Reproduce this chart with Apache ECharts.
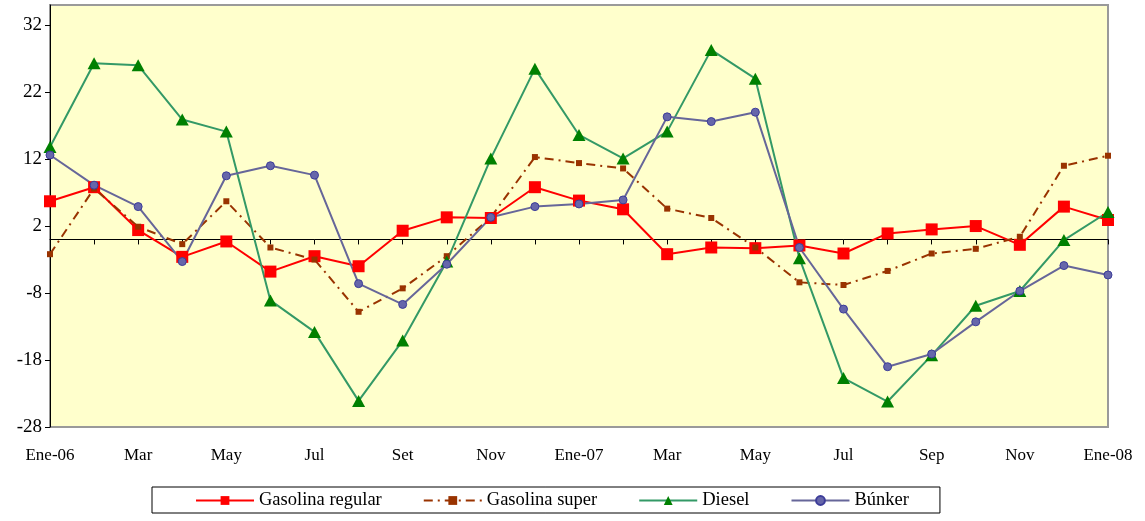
<!DOCTYPE html>
<html>
<head>
<meta charset="utf-8">
<script src="https://cdn.jsdelivr.net/npm/echarts@6/dist/echarts.min.js"></script>
<style>
html,body{margin:0;padding:0;background:#fff;}
#chart{width:1145px;height:521px;}
</style>
</head>
<body>
<div id="chart"></div>
<script>
var categories = ['Ene-06','Feb','Mar','Abr','May','Jun','Jul','Ago','Set','Oct','Nov','Dic',
                  'Ene-07','Feb','Mar','Abr','May','Jun','Jul','Ago','Sep','Oct','Nov','Dic','Ene-08'];
var gasolinaRegular = [5.7,7.8,1.4,-2.6,-0.3,-4.8,-2.5,-4.0,1.3,3.3,3.2,7.8,5.8,4.5,-2.2,-1.2,-1.3,-0.9,-2.1,0.9,1.5,2.0,-0.8,4.9,2.9];
var gasolinaSuper   = [-2.2,7.6,1.9,-0.7,5.7,-1.2,-3.0,-10.8,-7.3,-2.5,3.3,12.3,11.4,10.6,4.6,3.2,-1.2,-6.4,-6.8,-4.7,-2.1,-1.4,0.4,11.0,12.5];
var diesel          = [13.8,26.3,26.0,17.9,16.1,-9.1,-13.8,-24.1,-15.1,-3.3,12.1,25.5,15.6,12.1,16.1,28.3,24.0,-2.8,-20.7,-24.2,-17.3,-9.9,-7.7,-0.1,4.1];
var bunker          = [12.6,8.1,4.9,-3.3,9.5,11.0,9.6,-6.6,-9.7,-3.7,3.3,4.9,5.3,5.9,18.3,17.6,19.0,-1.2,-10.4,-19.0,-17.1,-12.3,-7.7,-3.9,-5.3];
var yTicks = [-28,-18,-8,2,12,22,32];
var yMin = -28, yMax = 35;

var FONT = 'Liberation Serif';
var chart = echarts.init(document.getElementById('chart'));
chart.setOption({
  animation: false,
  grid: {
    left: 50, right: 37, top: 5, bottom: 94,
    show: true, backgroundColor: '#FFFFCC',
    borderColor: '#9a9a9a', borderWidth: 2
  },
  legend: {
    left: 152, top: 487,
    orient: 'horizontal',
    borderColor: '#000', borderWidth: 1,
    padding: [4, 31, 3, 43],
    itemGap: 41, itemWidth: 58, itemHeight: 11,
    textStyle: { fontFamily: FONT, fontSize: 18.5, color: '#000' },
    data: ['Gasolina regular','Gasolina super','Diesel','Búnker']
  },
  xAxis: [
    {
      type: 'category', data: categories, boundaryGap: false, position: 'bottom',
      axisLine: { show: false, onZero: false },
      axisTick: { show: false },
      splitLine: { show: false },
      axisLabel: { interval: 1, margin: 20, fontFamily: FONT, fontSize: 17, color: '#000' }
    },
    {
      type: 'category', data: categories, boundaryGap: false, position: 'top',
      axisLine: { show: true, onZero: true, lineStyle: { color: '#000', width: 1 } },
      axisTick: { show: true, inside: true, interval: 0, length: 5, lineStyle: { color: '#000' } },
      axisLabel: { show: false },
      splitLine: { show: false }
    }
  ],
  yAxis: {
    type: 'value', min: yMin, max: yMax, interval: 10,
    axisLine: { show: true, onZero: false, lineStyle: { color: '#000', width: 1 } },
    axisTick: { show: true, length: 5, lineStyle: { color: '#000' }, customValues: yTicks },
    splitLine: { show: false },
    axisLabel: { margin: 8, fontFamily: FONT, fontSize: 19, color: '#000', customValues: yTicks }
  },
  series: [
    {
      name: 'Gasolina regular', type: 'line', data: gasolinaRegular,
      symbol: 'rect', symbolSize: 12,
      lineStyle: { color: '#FF0000', width: 2 },
      itemStyle: { color: '#FF0000' }
    },
    {
      name: 'Gasolina super', type: 'line', data: gasolinaSuper,
      symbol: 'rect', symbolSize: 6,
      lineStyle: { color: '#993300', width: 2, type: [9, 5, 2, 5] },
      itemStyle: { color: '#993300' }
    },
    {
      name: 'Diesel', type: 'line', data: diesel,
      symbol: 'triangle', symbolSize: [13, 12],
      lineStyle: { color: '#339966', width: 2 },
      itemStyle: { color: '#008000' }
    },
    {
      name: 'Búnker', type: 'line', data: bunker,
      symbol: 'circle', symbolSize: 8,
      lineStyle: { color: '#666699', width: 2 },
      itemStyle: { color: '#6666aa', borderColor: '#3c3c99', borderWidth: 1 }
    }
  ]
});
</script>
</body>
</html>
